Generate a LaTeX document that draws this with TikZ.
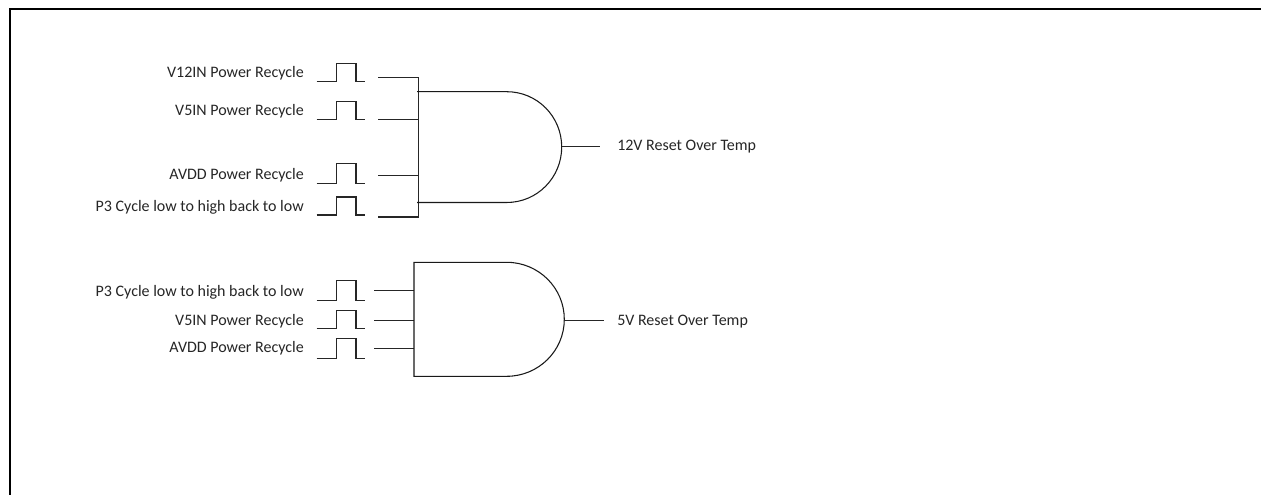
\documentclass[tikz,border=0pt]{standalone}
\usepackage{fontspec}
\setmainfont{Carlito}
\tikzset{
  x=0.75pt,y=-0.75pt,
  wire/.style={line width=0.8pt,black!85},
  gate/.style={line width=0.8pt,black!90},
  lab/.style={inner sep=0pt,font=\fontsize{12pt}{14pt}\selectfont,text=black!85},
  rlab/.style={lab,anchor=base east},
  llab/.style={lab,anchor=base west},
  frame/.style={line width=1.6pt,black}
}
\newcommand{\pulse}[2]{%
  \draw[wire] (316.7,#1) -- (336.7,#1) -- (336.7,#2) -- (356,#2) -- (356,#1) -- (364.7,#1);}
\begin{document}
\begin{tikzpicture}
\useasboundingbox (0,0) rectangle (1261,495);
\fill[white] (0,0) rectangle (1261,495);
\draw[frame] (10,495) -- (10,9) -- (1261,9);
% labels, upper group
\node[rlab] (a1) at (304,78) {V12IN Power Recycle};
\node[rlab] (a2) at (304,116) {V5IN Power Recycle};
\node[rlab] (a3) at (304,180) {AVDD Power Recycle};
\node[rlab] (a4) at (304,212) {P3 Cycle low to high back to low};
\pulse{81.7}{63.7}\pulse{119.3}{101.3}\pulse{183.3}{163.3}\pulse{215}{197}
% upper gate
\coordinate (u1) at (378.3,77.7);
\coordinate (u2) at (378.3,119.5);
\coordinate (u3) at (378.3,175.3);
\coordinate (u4) at (378.3,217);
\coordinate (ut) at (418.3,77.7);
\coordinate (ub) at (418.3,217);
\draw[wire] (u1) -- (ut) -- (ub) -- (u4);
\draw[wire] (u2) -- (418.3,119.5);
\draw[wire] (u3) -- (418.3,175.3);
\draw[gate] (417,91.7) -- (506.7,91.7) .. controls (537.3,91.7) and (561.7,116.5) .. (561.7,147) .. controls (561.7,177.5) and (537.3,202.5) .. (506.7,202.5) -- (417,202.5);
\coordinate (uo) at (561.7,146.7);
\coordinate (uoe) at (600,146.7);
\draw[wire] (uo) -- (uoe);
\node[llab] (uout) at (617,151) {12V Reset Over Temp};
% lower group
\node[rlab] (b1) at (304,297) {P3 Cycle low to high back to low};
\node[rlab] (b2) at (304,326) {V5IN Power Recycle};
\node[rlab] (b3) at (304,353) {AVDD Power Recycle};
\pulse{300.7}{280.7}\pulse{328.3}{310.3}\pulse{358.3}{338.3}
\coordinate (l1) at (374.3,290.7);
\coordinate (l2) at (374.3,320.3);
\coordinate (l3) at (374.3,348.3);
\draw[wire] (l1) -- (414,290.7);
\draw[wire] (l2) -- (414,320.3);
\draw[wire] (l3) -- (414,348.3);
\draw[gate] (506.7,262.3) -- (414,262.3) -- (414,376.3) -- (506.7,376.3) .. controls (538.5,376.3) and (564.3,350.8) .. (564.3,319.3) .. controls (564.3,287.8) and (538.5,262.3) .. (506.7,262.3);
\coordinate (lo) at (564.3,320.3);
\coordinate (loe) at (604,320.3);
\draw[wire] (lo) -- (loe);
\node[llab] (lout) at (617,326) {5V Reset Over Temp};
\end{tikzpicture}
\end{document}
